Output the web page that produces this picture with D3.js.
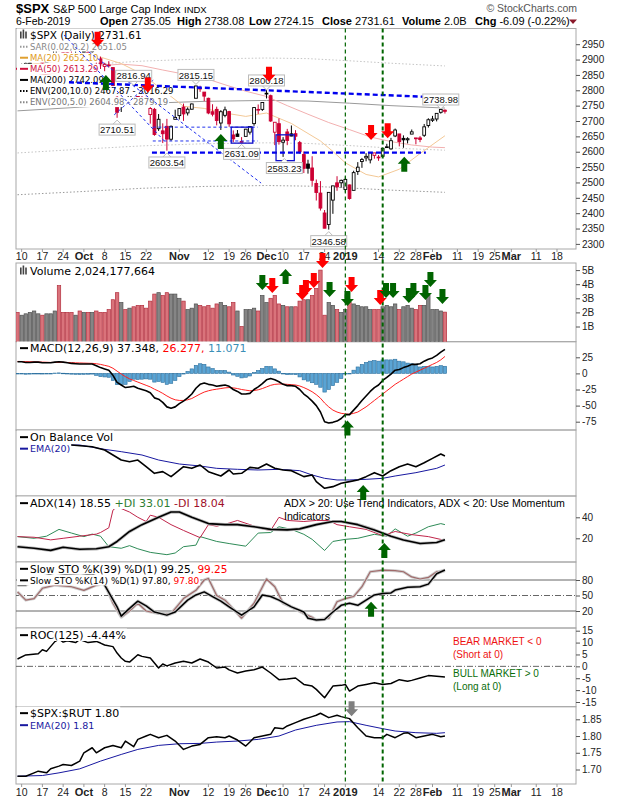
<!DOCTYPE html>
<html>
<head>
<meta charset="utf-8">
<script src="https://cdn.jsdelivr.net/npm/d3@7"></script>
<style>
  body { margin: 0; background: #fff; }
  svg { display: block; }
  text { font-family: "Liberation Sans", Arial, sans-serif; }
  .lg { font-family: "DejaVu Sans", Verdana, sans-serif; }
</style>
</head>
<body>
<svg id="chart" width="620" height="800"></svg>
<script>
// ---- data: one entry per trading day, index 0 = 7-Sep-2018 ... 103 = 6-Feb-2019
const prevClose = 2878.05; // 6-Sep-2018, colours the first bar
const open = [2868.3,2881.4,2871.6,2888.3,2896.9,2906.4,2903.8,2890.7,2906.6,2919.7,
  2936.8,2921.8,2921.8,2916.9,2911.7,2910.0,2926.3,2923.8,2931.7,2919.4,
  2902.5,2877.5,2882.5,2873.9,2776.9,2770.5,2763.8,2767.1,2811.7,2802.0,
  2775.7,2773.9,2721.0,2737.9,2674.9,2667.9,2682.7,2640.7,2705.6,2717.6,
  2745.5,2726.4,2738.4,2774.1,2806.4,2794.1,2773.9,2730.1,2737.9,2693.5,
  2718.5,2730.7,2654.6,2657.7,2633.4,2650.0,2663.8,2691.5,2737.0,2737.8,
  2790.5,2782.4,2663.5,2691.3,2630.9,2664.4,2658.2,2658.7,2629.7,2590.8,
  2559.9,2547.1,2496.8,2465.4,2400.6,2363.1,2442.5,2498.8,2498.9,2477.0,
  2491.9,2474.3,2535.6,2568.1,2580.0,2573.5,2588.1,2580.3,2585.1,2614.8,
  2609.3,2651.3,2657.9,2643.5,2638.8,2657.4,2644.9,2644.9,2653.6,2685.5,
  2702.3,2706.5,2728.3,2735.05];
const high = [2883.8,2886.9,2892.5,2894.6,2906.8,2908.3,2904.6,2911.2,2912.4,2934.8,
  2940.9,2923.8,2923.9,2931.2,2927.2,2920.5,2937.1,2931.4,2939.9,2919.8,
  2909.6,2889.5,2894.8,2874.0,2795.1,2775.8,2776.0,2813.5,2816.9,2806.0,
  2797.8,2778.9,2753.6,2742.6,2722.7,2692.4,2706.9,2685.4,2736.7,2741.7,
  2756.6,2744.3,2756.8,2815.2,2814.8,2794.1,2776.0,2754.6,2746.8,2735.4,
  2746.8,2733.2,2669.4,2670.7,2647.6,2674.4,2682.5,2744.0,2753.8,2760.9,
  2800.2,2785.9,2696.2,2708.5,2647.5,2674.4,2685.4,2670.2,2635.1,2601.1,
  2574.0,2585.3,2509.6,2504.4,2410.3,2467.8,2489.1,2520.3,2509.2,2519.5,
  2493.1,2538.1,2566.2,2579.8,2595.3,2597.8,2596.3,2589.3,2613.1,2625.8,
  2645.1,2675.5,2657.9,2653.2,2647.2,2672.4,2644.9,2650.9,2690.4,2708.95,
  2716.7,2725.0,2738.98,2738.08];
const low = [2864.1,2875.9,2866.8,2879.2,2896.4,2895.8,2886.2,2890.4,2903.8,2919.7,
  2927.1,2912.6,2913.7,2903.3,2909.3,2907.5,2917.9,2919.4,2921.4,2883.9,
  2869.3,2862.1,2874.3,2784.9,2710.5,2729.4,2749.0,2766.9,2781.8,2755.2,
  2760.3,2749.2,2691.4,2651.9,2667.8,2628.2,2603.5,2635.3,2705.6,2705.0,
  2700.4,2717.9,2737.1,2774.1,2794.9,2764.2,2722.0,2715.0,2685.8,2670.8,
  2712.2,2681.1,2631.1,2649.8,2631.5,2650.0,2655.9,2684.4,2722.9,2732.8,
  2773.4,2697.2,2621.5,2623.1,2583.2,2621.3,2650.3,2637.3,2593.8,2530.5,
  2528.7,2489.0,2441.2,2408.6,2351.1,2346.6,2397.9,2472.9,2482.8,2467.5,
  2444.0,2474.3,2524.6,2547.6,2568.9,2562.0,2577.4,2570.4,2585.1,2612.7,
  2606.4,2647.6,2617.3,2612.9,2627.0,2657.3,2624.1,2631.1,2648.3,2678.7,
  2696.9,2698.8,2724.0,2724.15];
const close = [2871.68,2877.13,2887.89,2888.92,2904.18,2904.98,2888.80,2904.31,2907.95,2930.75,
  2929.67,2919.37,2915.56,2905.97,2914.00,2913.98,2924.59,2923.43,2925.51,2901.61,
  2885.57,2884.43,2880.34,2785.68,2728.37,2767.13,2750.79,2809.92,2809.21,2768.78,
  2767.78,2755.88,2740.69,2656.10,2705.57,2658.69,2641.25,2682.63,2711.74,2740.37,
  2723.06,2738.31,2755.45,2813.89,2806.83,2781.01,2726.22,2722.18,2701.58,2730.20,
  2736.27,2690.73,2641.89,2649.93,2632.56,2673.45,2682.17,2743.79,2737.76,2760.17,
  2790.37,2700.06,2695.95,2633.08,2637.72,2636.78,2651.07,2650.54,2599.95,2545.94,
  2546.16,2506.96,2467.42,2416.62,2351.10,2467.70,2488.83,2485.74,2506.85,2510.03,
  2447.89,2531.94,2549.69,2574.41,2584.96,2596.64,2596.26,2582.61,2610.30,2616.10,
  2635.96,2670.71,2632.90,2638.70,2642.33,2664.76,2643.85,2640.00,2681.05,2704.10,
  2706.53,2724.87,2737.70,2731.61];
// volume in billions
const volume = [2.0,1.8,1.9,2.0,2.1,1.9,1.8,1.9,1.9,2.1,
  3.9,2.0,2.0,2.0,1.8,2.1,2.0,2.0,2.0,2.1,
  2.0,2.0,2.2,2.9,3.4,2.7,2.2,2.3,2.4,2.5,
  2.5,2.3,2.8,3.3,3.4,3.2,3.4,3.3,3.3,3.0,
  2.8,2.2,2.3,2.6,2.5,2.4,2.5,2.3,2.6,2.7,
  2.5,2.4,2.7,2.1,1.0,2.2,2.2,2.3,2.1,3.2,
  2.7,3.0,3.2,2.6,2.5,2.4,2.4,2.4,2.8,2.9,
  2.9,3.2,3.7,5.0,1.8,2.7,2.5,2.2,2.0,2.2,
  2.7,2.6,2.5,2.4,2.4,2.2,2.2,2.2,2.4,2.5,
  2.4,2.6,2.2,2.4,2.5,2.3,2.2,2.5,2.5,3.2,
  2.2,2.2,2.1,2.02];
const macd = [18,18,17,17,17.5,17.5,16.5,16.5,16.5,17.5,
  18,17.5,16.5,15.5,15,14.5,14.5,14.5,14.5,12,
  9,7,5,-3,-14,-18,-22,-21,-20,-23,
  -25,-27,-30,-38,-40,-45,-52,-54,-52,-47,
  -43,-38,-32,-23,-17,-15,-17,-18,-20,-19,
  -18,-20,-25,-28,-32,-32,-31,-25,-21,-16,
  -10,-8,-10,-13,-17,-19,-19,-20,-25,-32,
  -37,-43,-50,-60,-75,-77,-76,-74,-70,-64,
  -64,-57,-50,-42,-35,-28,-22,-18,-11,-6,
  -1,5,6,9,11,14,14,15,19,22,
  24,28,33,37.35];
const signal = [18.6,18.5,18.3,18.1,18,17.8,17.5,17.3,17,17,
  17.2,17.2,17,16.7,16.4,16.2,16,15.8,15.6,15,
  14,12.5,11,8,3.5,-1,-5,-8.5,-11,-13.5,
  -16,-18.5,-21,-24.5,-27.5,-31,-35,-38.5,-41,-42,
  -42,-41,-39,-35.5,-32,-29,-27,-25.5,-24.5,-23.5,
  -22.5,-22,-22.5,-23.5,-25,-26,-27,-26.5,-25.5,-23.5,
  -21,-18.5,-17,-16.5,-16.5,-17,-17.5,-18,-19.5,-22,
  -25,-28.5,-33,-38.5,-46,-52,-57,-60,-62,-63,
  -63.5,-62,-60,-56,-52,-47,-42,-37,-32,-27,
  -22,-17,-13,-9,-5,-1,2,5,8,11,
  14,17,21,26.28];

// ---- overlays read at sample days: [day index, value]
const ma20 = [[0,2880],[10,2895],[15,2900],[20,2908],[25,2887],[30,2853],[35,2801],[40,2748],[45,2741],
  [50,2726],[55,2715],[60,2726],[66,2692],[73,2635],[76,2601],[79,2564],[84,2526],[87,2518],[92,2543],[97,2594],[103,2652.1]];
const ma50 = [[0,2838],[10,2858],[20,2880],[25,2885],[30,2880],[35,2866],[40,2853],[45,2840],[50,2818],[55,2797],
  [60,2780],[65,2750],[70,2722],[75,2695],[80,2672],[85,2648],[90,2633],[95,2622],[100,2615],[103,2613.3]];
const ma200 = [[0,2733],[15,2745],[30,2757],[45,2764],[60,2767],[70,2765],[80,2758],[90,2750],[103,2742.1]];
const env10Low = [[0,2460],[15,2470],[30,2481],[45,2487],[60,2490],[70,2488],[80,2482],[90,2475],[103,2467.9]];
const env10High = [[0,3006],[15,3020],[30,3033],[45,3040],[60,3044],[70,3042],[80,3034],[90,3025],[103,3016.3]];
const env5Low = [[0,2596],[15,2608],[30,2619],[45,2626],[60,2629],[70,2627],[80,2620],[90,2612],[103,2605]];
const env5High = [[0,2870],[15,2882],[30,2895],[45,2902],[60,2905],[70,2903],[80,2896],[90,2888],[103,2879.2]];

// ---- indicators read at sample days
const obv = [[0,0.2],[6,0.5],[13,0.5],[18,0],[21,-1],[25,-4],[27,-4.5],[29,-4],[31,-6],[33,-8],[35,-7.5],[37,-9],
  [38,-8],[40,-6],[42,-6.5],[44,-5.5],[46,-7.5],[49,-8.8],[51,-7],[52,-8.2],[54,-8],[56,-6.2],[58,-6.5],[60,-5.2],
  [62,-6.5],[64,-7],[66,-7.2],[69,-9],[71,-8.5],[72,-10.5],[74,-12.5],[76,-12],[78,-11],[80,-10.5],[82,-10],
  [84,-9],[86,-7.8],[88,-8.8],[90,-7.2],[92,-6],[94,-5.2],[96,-6],[98,-4.8],[100,-3.5],[102,-2.2],[103,-2.8]];
const obvEma = [[0,0.5],[15,0.5],[21,-0.8],[25,-1.5],[30,-2.5],[34,-4],[39,-5.2],[44,-5.8],[48,-6.5],[53,-6.8],
  [58,-7],[63,-6.8],[68,-7.2],[71,-8.5],[74,-9.5],[77,-10],[80,-10],[84,-9.8],[88,-9.5],[91,-8.8],[96,-7.8],[101,-6.5],[103,-5.5]];
const adx = [[0,12],[4,10.5],[8,8.5],[11,11.5],[15,9.5],[19,10],[22,12],[24,17],[27,26.5],[30,33],[34,40],[37,45],
  [39,45],[42,40],[46,34],[50,33],[53,33],[57,31],[61,28.5],[65,28],[68,29],[72,33],[76,36],[78,36],[82,33],
  [86,28],[90,22],[93,18.4],[97,15],[101,16],[103,18.55]];
const plusDI = [[0,21.6],[4,20],[7,22],[10,28.5],[13,25],[16,21.6],[18,24],[20,22],[22,12],[25,10.5],[27,13],
  [29,10],[32,6.6],[36,4.4],[38,6],[40,12],[43,13.5],[44,21.6],[48,17],[51,15],[55,12.5],[58,25],[61,25.5],
  [63,31],[66,28.5],[69,23.8],[71,19],[74,8.4],[76,17],[79,19],[82,20],[86,23.8],[89,22],[91,29],[94,22],
  [96,25],[99,31],[102,34],[103,33.01]];
const minusDI = [[0,21.6],[4,21],[8,18.5],[11,20],[15,22],[19,24],[20,25.5],[22,30],[23,46.8],[24,50],[27,45],
  [29,40],[31,36],[32,42],[34,40],[37,33],[40,27.5],[44,20.6],[46,33],[48,31.5],[51,34.5],[53,37],[56,33],
  [59,29],[61,27.5],[63,40],[65,37],[69,36],[72,37],[75,37],[77,33],[80,31],[84,28.5],[88,22.5],[91,26.5],
  [95,23.5],[99,21.6],[103,18.04]];
const stoK39 = [[0,70],[2,70],[5,82],[9,95],[12,90],[15,88],[18,92],[20,80],[21,70],[24,28],[25,10],[27,25],
  [29,39],[31,30],[33,18],[36,12],[38,18],[41,41],[43,51],[45,57],[47,48],[49,39],[51,28],[54,12],[57,28],
  [59,51],[61,48],[63,41],[66,28],[69,18],[70,6],[72,2.5],[74,3.5],[76,18],[78,31],[80,35],[82,31],[84,41],
  [86,51],[88,54],[90,55],[91,60.5],[94,66],[97,67],[99,72],[101,92],[103,99.25]];
const stoK14 = [[0,57],[2,41],[4,44],[6,64],[9,70],[13,67],[16,60],[19,70],[21,73],[23,35],[25,8],[27,20],
  [29,35],[31,20],[34,15],[37,15],[40,44],[43,60],[45,80],[46,83],[48,50],[50,41],[52,24],[54,6],[57,35],
  [60,82],[62,67],[64,35],[66,28],[69,15],[71,8],[72,2.5],[75,6],[77,38],[79,44],[81,48],[83,67],[85,96],
  [88,99],[91,98],[93,96],[95,86],[97,82],[99,85],[101,96],[103,97.8]];
const roc = [[0,3.1],[2,4.8],[5,5.3],[6,7],[7,6.3],[9,10.4],[10,11.5],[11,10.2],[12,10.8],[14,10],[15,11.3],
  [17,10],[19,10.5],[20,9.8],[21,9],[23,8.3],[24,5.6],[25,3.5],[26,2.1],[27,1.8],[29,4.9],[30,4.2],[32,3.5],
  [34,-0.7],[35,1],[36,0.2],[38,1.4],[40,2.1],[42,1.4],[44,3.1],[46,1.8],[48,-0.7],[50,-0.3],[51,-1.5],
  [53,-2.8],[55,-2],[57,-1.4],[59,-0.3],[61,-2.8],[63,-5.6],[65,-5.3],[67,-4.9],[69,-7.6],[71,-8.3],
  [72,-9.7],[74,-13.2],[76,-8.3],[78,-8],[79,-7.6],[80,-10.4],[82,-8.3],[84,-7.6],[86,-6.9],[88,-7.6],
  [90,-7.2],[92,-5.6],[94,-6.3],[95,-5.9],[97,-4.9],[99,-3.9],[101,-4.2],[103,-4.44]];
const ratio = [[0,1.680],[2,1.680],[4,1.690],[5,1.695],[7,1.690],[8,1.702],[10,1.710],[11,1.715],[13,1.712],
  [15,1.725],[16,1.750],[18,1.765],[19,1.750],[21,1.765],[23,1.772],[25,1.765],[26,1.785],[28,1.768],
  [29,1.790],[31,1.800],[32,1.805],[34,1.795],[36,1.802],[38,1.785],[40,1.760],[42,1.770],[44,1.775],
  [46,1.795],[48,1.798],[50,1.795],[51,1.800],[53,1.788],[55,1.770],[56,1.782],[57,1.795],[59,1.800],
  [61,1.805],[62,1.825],[64,1.822],[65,1.830],[67,1.840],[69,1.850],[71,1.858],[72,1.862],[73,1.868],
  [75,1.855],[77,1.862],[78,1.858],[80,1.852],[82,1.825],[84,1.800],[86,1.795],[88,1.795],[89,1.805],
  [91,1.795],[93,1.808],[94,1.810],[96,1.795],[98,1.800],[100,1.805],[102,1.798],[103,1.800]];
const ratioEma = [[0,1.680],[6,1.682],[10,1.690],[15,1.702],[20,1.725],[25,1.745],[29,1.760],[34,1.772],
  [39,1.777],[44,1.778],[48,1.782],[53,1.785],[58,1.790],[63,1.800],[67,1.818],[72,1.832],[77,1.842],
  [80,1.843],[84,1.832],[88,1.822],[91,1.815],[96,1.810],[101,1.808],[103,1.810]];

// ---- axis ticks
const xTicks = [[1,'10'],[6,'17'],[11,'24'],[16,'Oct'],[21,'8'],[26,'15'],[31,'22'],[39,'Nov'],[46,'12'],
  [51,'19'],[55,'26'],[60,'Dec'],[64,'10'],[69,'17'],[74,'24'],[79,'2019'],[87,'14'],[92,'22'],[96,'28'],
  [100,'Feb'],[106,'11'],[111,'19'],[115,'25'],[119,'Mar'],[125,'11'],[130,'18']];
const priceTicks = d3.range(2300, 2951, 50);
const volTicks = [1, 2, 3, 4, 5];
const macdTicks = [-75, -50, -25, 0, 25];
const adxTicks = [20, 40];
const stoTicks = [20, 50, 80];
const rocTicks = [-15, -10, -5, 0, 5, 10, 15];
const ratioTicks = [1.70, 1.75, 1.80, 1.85];

// ---- annotations: [day index, value at arrow tip, direction, colour]
const priceArrows = [[19.3,2942,'down','r'],[31.4,2793,'down','r'],[60.6,2828,'down','r'],[85.2,2638,'down','r'],
  [89.2,2644,'down','r'],[21.3,2850,'up','g'],[49,2658,'up','g'],[93.2,2584,'up','g']];
const volArrows = [[59,3.59,'down','g'],[61.4,3.38,'down','r'],[64.6,5.08,'up','g'],[68.6,2.88,'down','r'],
  [69.5,3.23,'down','r'],[71.4,3.73,'down','r'],[73.5,5.15,'down','r'],[75.2,3.09,'down','g'],
  [79.5,2.45,'down','g'],[80.5,3.45,'down','r'],[87.4,2.52,'down','r'],[88.8,3.02,'down','g'],
  [90.5,3.02,'down','g'],[94.3,2.67,'down','g'],[95.4,3.02,'down','g'],[98.3,2.88,'down','g'],
  [99.5,3.8,'down','g'],[102.4,2.6,'down','g']];
const callouts = [['2816.94',28,2847,'H'],['2815.15',43,2850,'H'],['2800.18',60,2832,'H'],['2710.51',24,2672,'L'],
  ['2603.54',36,2565,'L'],['2631.09',54,2593,'L'],['2583.23',64.3,2547,'L'],['2346.58',75,2309,'L'],['2738.98',102,2770,'H']];
// trend lines: [[index, price], [index, price]]
const trendThick = [[[12.4,2826],[98,2779]], [[32.4,2597],[98.4,2597]]];
const trendThin = [[[17.2,2925],[58.7,2498]], [[11.2,2980],[35.8,2629]], [[23.3,2720],[32.7,2833]],
  [[32.6,2680],[57.9,2680]], [[32.6,2635],[57.9,2635]]];
const boxes = [[51.5,56.7,2680,2628],[62.3,66.7,2655,2571]];
const markerDays = [79, 88];

// ---- layout
const svg = d3.select('#chart');
const defs = svg.append('defs');
const X0 = 16, X1 = 576;
const x = d3.scaleLinear().domain([-0.36, 134.58]).range([X0, X1]);
const panels = {
  price: [28.5, 249], vol: [263, 341.7], macd: [341.7, 430], obv: [430, 496],
  adx: [496, 562], sto: [562, 628], roc: [628, 706.7], ratio: [706.7, 784]
};
const yPrice = d3.scaleLinear().domain([2300, 2950]).range([243.9, 44.2]);
const yVol = d3.scaleLinear().domain([0, 5]).range([340.6, 270.1]);
const yMacd = d3.scaleLinear().domain([-75, 25]).range([421.7, 357.3]);
const yObv = d3.scaleLinear().domain([-14, 3]).range([493.3, 436.7]);
const yAdx = d3.scaleLinear().domain([20, 40]).range([538.3, 517.3]);
const ySto = d3.scaleLinear().domain([20, 80]).range([611, 580]);
const yRoc = d3.scaleLinear().domain([-15, 15]).range([702, 630.7]);
const yRatio = d3.scaleLinear().domain([1.70, 1.85]).range([769.5, 719.3]);

const RED = '#ff0000', GREEN = '#006400';
const arrowCol = c => c === 'r' ? RED : c === 'g' ? GREEN : '#808080';

// panel frames
Object.entries(panels).forEach(([k, p]) => {
  svg.append('rect').attr('x', X0).attr('y', p[0]).attr('width', X1 - X0).attr('height', p[1] - p[0])
    .attr('fill', 'none').attr('stroke', '#a8a8a8');
  defs.append('clipPath').attr('id', 'clip-' + k).append('rect')
    .attr('x', X0).attr('y', p[0]).attr('width', X1 - X0).attr('height', p[1] - p[0]);
});
const layer = k => svg.append('g').attr('clip-path', `url(#clip-${k})`);

function line(g, pts, y, color, width, dash) {
  return g.append('path').datum(pts)
    .attr('fill', 'none').attr('stroke', color).attr('stroke-width', width)
    .attr('stroke-dasharray', dash || null).attr('stroke-linejoin', 'round')
    .attr('d', d3.line().x(d => x(d[0])).y(d => y(d[1])));
}
const daily = arr => arr.map((v, i) => [i, v]);

function rightAxis(scale, ticks, fmt) {
  const g = svg.append('g').attr('transform', `translate(${X1},0)`)
    .call(d3.axisRight(scale).tickValues(ticks).tickSize(4).tickPadding(2).tickFormat(fmt));
  g.select('.domain').remove();
  g.selectAll('line').attr('stroke', '#555');
  g.selectAll('text').attr('font-size', 10).attr('fill', '#222')
    .attr('font-family', '"Liberation Sans", Arial, sans-serif');
}

function arrow(g, i, tipY, dir, color) {
  const cx = x(i), s = dir === 'down' ? -1 : 1;
  const p = [[cx, tipY], [cx + 6.5, tipY + s * 7], [cx + 3, tipY + s * 7], [cx + 3, tipY + s * 15],
    [cx - 3, tipY + s * 15], [cx - 3, tipY + s * 7], [cx - 6.5, tipY + s * 7]];
  g.append('path').attr('d', 'M' + p.join('L') + 'Z').attr('fill', color);
}

// ---- date rows
function dateRow(yBase, tickTop) {
  xTicks.forEach(([i, lab]) => {
    const bold = isNaN(+lab) || lab === '2019';
    svg.append('text').attr('x', x(i)).attr('y', yBase).attr('text-anchor', 'middle')
      .attr('font-size', bold ? 11 : 10.5).attr('font-weight', bold ? 'bold' : null).attr('fill', '#222').text(lab);
    svg.append('line').attr('x1', x(i)).attr('x2', x(i)).attr('y1', tickTop).attr('y2', tickTop + 3)
      .attr('stroke', '#999');
  });
}
dateRow(260, 249);
dateRow(796, 784);

// ---- price panel data
const gP = layer('price');
line(gP, env10High, yPrice, '#999', 1, '1.5,2');
line(gP, env10Low, yPrice, '#999', 1, '1.5,2');
line(gP, env5High, yPrice, '#c4c4c4', 1, '1.5,2');
line(gP, env5Low, yPrice, '#c4c4c4', 1, '1.5,2');
line(gP, ma200, yPrice, '#9a9a9a', 1);
line(gP, ma50, yPrice, '#f2b0b0', 1);
line(gP, ma20, yPrice, '#f3c896', 1);

close.forEach((c, i) => {
  const prev = i === 0 ? prevClose : close[i - 1];
  const col = c < prev ? '#cc0033' : '#000';
  const xi = x(i);
  gP.append('line').attr('x1', xi).attr('x2', xi).attr('y1', yPrice(high[i])).attr('y2', yPrice(low[i]))
    .attr('stroke', col).attr('stroke-width', 1);
  const t = yPrice(Math.max(open[i], c)), b = yPrice(Math.min(open[i], c));
  gP.append('rect').attr('x', xi - 1.4).attr('y', t).attr('width', 2.8).attr('height', Math.max(b - t, 0.8))
    .attr('fill', c < open[i] ? col : '#fff').attr('stroke', col).attr('stroke-width', 0.9);
});
rightAxis(yPrice, priceTicks, d => d);

// ---- volume panel
const gV = layer('vol');
volume.forEach((v, i) => {
  const prev = i === 0 ? prevClose : close[i - 1];
  const down = close[i] < prev;
  gV.append('rect').attr('x', x(i) - 1.7).attr('y', yVol(v)).attr('width', 3.4).attr('height', yVol(0) - yVol(v) + 2)
    .attr('fill', down ? '#d9737b' : '#858585').attr('stroke', down ? '#b3303f' : '#505050').attr('stroke-width', 0.7);
});
rightAxis(yVol, volTicks, d => d + 'B');

// ---- MACD panel
const gM = layer('macd');
macd.forEach((m, i) => {
  const h = m - signal[i];
  gM.append('rect').attr('x', x(i) - 1.7).attr('y', yMacd(Math.max(h, 0))).attr('width', 3.4)
    .attr('height', Math.max(Math.abs(yMacd(h) - yMacd(0)), 0.6))
    .attr('fill', '#5aa4d4').attr('stroke', '#2b6f9e').attr('stroke-width', 0.6);
});
line(gM, daily(signal), yMacd, '#ff2020', 1);
line(gM, daily(macd), yMacd, '#000', 1.6);
rightAxis(yMacd, macdTicks, d => d);

// ---- OBV panel
const gO = layer('obv');
line(gO, obvEma, yObv, '#1818a0', 1);
line(gO, obv, yObv, '#000', 1.6);

// ---- ADX panel
const gA = layer('adx');
line(gA, plusDI, yAdx, '#2e8b57', 1);
line(gA, minusDI, yAdx, '#c0254a', 1);
line(gA, adx, yAdx, '#bdbdbd', 3.2);
line(gA, adx, yAdx, '#000', 1.6);
rightAxis(yAdx, adxTicks, d => d);

// ---- Stochastics panel
const gS = layer('sto');
[80, 20].forEach(v => gS.append('line').attr('x1', X0).attr('x2', X1).attr('y1', ySto(v)).attr('y2', ySto(v))
  .attr('stroke', '#666').attr('stroke-width', 1));
gS.append('line').attr('x1', X0).attr('x2', X1).attr('y1', ySto(50)).attr('y2', ySto(50))
  .attr('stroke', '#666').attr('stroke-dasharray', '6,2,1,2');
line(gS, stoK14, ySto, '#cfcfcf', 3);
line(gS, stoK14, ySto, '#a06a6a', 1.2);
line(gS, stoK39, ySto, '#c8c8c8', 3.2);
line(gS, stoK39, ySto, '#000', 1.5);
rightAxis(ySto, stoTicks, d => d);

// ---- ROC panel
const gR = layer('roc');
gR.append('line').attr('x1', X0).attr('x2', X1).attr('y1', yRoc(0)).attr('y2', yRoc(0))
  .attr('stroke', '#666').attr('stroke-dasharray', '6,2,1,2');
line(gR, roc, yRoc, '#000', 1.5);
rightAxis(yRoc, rocTicks, d => d);

// ---- $SPX:$RUT panel
const gX = layer('ratio');
line(gX, ratioEma, yRatio, '#1818a0', 1);
line(gX, ratio, yRatio, '#000', 1.5);
rightAxis(yRatio, ratioTicks, d3.format('.2f'));

// ---- legends (white box behind each row, as the original hides the lines there)
function legend(y, parts, size, icon, iconCol) {
  const bg = svg.append('rect').attr('fill', '#fff');
  const t = svg.append('text').attr('class', 'lg').attr('x', 30).attr('y', y).attr('font-size', size);
  parts.forEach(([s, c]) => t.append('tspan').attr('fill', c).text(s));
  const w = t.node().getComputedTextLength();
  bg.attr('x', X0 + 1).attr('y', y - size * 0.95).attr('width', 30 + w + 1 - X0 - 1).attr('height', size * 0.95 + 2);
  if (icon === 'line' || icon === 'dots') svg.append('line').attr('x1', 20).attr('x2', 28)
    .attr('y1', y - size * 0.35).attr('y2', y - size * 0.35).attr('stroke', iconCol).attr('stroke-width', 2)
    .attr('stroke-dasharray', icon === 'dots' ? '1.5,1.5' : null);
  if (icon === 'bars') [0, 1, 2].forEach(k => svg.append('rect').attr('x', 20 + k * 2.6).attr('y', y - 8 + (k === 1 ? -1 : 1))
    .attr('width', 1.6).attr('height', 8 - (k === 1 ? -1 : 1)).attr('fill', '#444'));
}
const pl = 11.1;
legend(38.5, [['$SPX (Daily) 2731.61', '#000']], 10.5, 'bars');
legend(38.5 + pl, [['SAR(0.02,0.2) 2651.05', '#888']], 8.5, 'dots', '#999');
legend(38.5 + pl * 2, [['MA(20) 2652.10', '#e09a20']], 8.5, 'line', '#e0a030');
legend(38.5 + pl * 3, [['MA(50) 2613.29', '#d0103f']], 8.5, 'line', '#d0103f');
legend(38.5 + pl * 4, [['MA(200) 2742.09', '#000']], 8.5, 'line', '#000');
legend(38.5 + pl * 5, [['ENV(200,10.0) 2467.87 - 3016.29', '#000']], 8.5, 'dots', '#000');
legend(38.5 + pl * 6, [['ENV(200,5.0) 2604.98 - 2879.19', '#777']], 8.5, 'dots', '#888');

legend(274.5, [['Volume 2,024,177,664', '#000']], 11, 'bars');
legend(352, [['MACD(12,26,9) 37.348, ', '#000'], ['26.277, ', '#ff0000'], ['11.071', '#3a8fb7']], 11, 'line', '#000');
legend(441, [['On Balance Vol', '#000']], 11, 'line', '#000');
legend(452, [['EMA(20)', '#1818a0']], 9.5, 'line', '#1818a0');
legend(507, [['ADX(14) 18.55 ', '#000'], ['+DI 33.01 ', '#2e7d32'], ['-DI 18.04', '#a0102a']], 11, 'line', '#000');
legend(572.5, [['Slow STO %K(39) %D(1) 99.25, ', '#000'], ['99.25', '#ff0000']], 10.5, 'line', '#000');
legend(583.5, [['Slow STO %K(14) %D(1) 97.80, ', '#000'], ['97.80', '#ff0000']], 9, 'line', '#000');
legend(639, [['ROC(125) -4.44%', '#000']], 11, 'line', '#000');
legend(717, [['$SPX:$RUT 1.80', '#000']], 11, 'line', '#000');
legend(728.5, [['EMA(20) 1.81', '#1818a0']], 9.5, 'line', '#1818a0');

// panel notes
const note = (xp, yp, s, c, size) => svg.append('text').attr('x', xp).attr('y', yp).attr('font-size', size)
  .attr('fill', c).text(s);
note(284, 507, 'ADX > 20: Use Trend Indicators, ADX < 20: Use Momentum', '#000', 10.6);
note(284, 520, 'Indicators', '#000', 10.6);
note(453, 644.5, 'BEAR MARKET < 0', '#ee1111', 10);
note(453, 658, '(Short at 0)', '#ee1111', 10);
note(453, 676.5, 'BULL MARKET > 0', '#0a6e0a', 10);
note(453, 690, '(Long at 0)', '#0a6e0a', 10);

// ---- price annotations drawn over the legend
const gN = layer('price');
trendThick.forEach(seg => line(gN, seg, yPrice, '#0000ee', 2.4, '5,3'));
trendThin.forEach(seg => line(gN, seg, yPrice, '#2233ee', 1, '3,2.5'));
boxes.forEach(([i0, i1, p0, p1]) => {
  gN.append('rect').attr('x', x(i0)).attr('y', yPrice(p0)).attr('width', x(i1) - x(i0))
    .attr('height', yPrice(p1) - yPrice(p0)).attr('fill', 'none').attr('stroke', '#1010cc').attr('stroke-width', 1.3);
});
callouts.forEach(([t, i, p, kind]) => {
  const cx = x(i), cy = yPrice(p), w = 36, h = 11;
  const g = svg.append('g');
  const ty = kind === 'H' ? cy + h / 2 : cy - h / 2, s = kind === 'H' ? 1 : -1;
  g.append('path').attr('d', `M${cx - 4},${ty}L${cx},${ty + s * 4}L${cx + 4},${ty}`)
    .attr('fill', '#fff').attr('stroke', '#bbb');
  g.append('rect').attr('x', cx - w / 2).attr('y', cy - h / 2).attr('width', w).attr('height', h)
    .attr('fill', '#fff').attr('stroke', '#bbb');
  g.append('text').attr('x', cx).attr('y', cy + 3.6).attr('text-anchor', 'middle')
    .attr('font-size', 9.5).attr('fill', '#111').text(t);
});

// ---- vertical markers
markerDays.forEach((d, k) => {
  svg.append('line').attr('x1', x(d)).attr('x2', x(d)).attr('y1', panels.price[0]).attr('y2', panels.ratio[1])
    .attr('stroke', GREEN).attr('stroke-width', k ? 2 : 1.2).attr('stroke-dasharray', '4,3');
});

// ---- arrows
const gArr = svg.append('g');
priceArrows.forEach(([i, v, d, c]) => arrow(gArr, i, yPrice(v), d, arrowCol(c)));
volArrows.forEach(([i, v, d, c]) => arrow(gArr, i, yVol(v), d, arrowCol(c)));
arrow(gArr, 79.5, yMacd(-73), 'up', GREEN);
arrow(gArr, 83.3, yObv(-11.5), 'up', GREEN);
arrow(gArr, 88.4, yAdx(15.5), 'up', GREEN);
arrow(gArr, 85.2, ySto(38), 'up', GREEN);
arrow(gArr, 80.5, yRatio(1.859), 'down', '#808080');

// ---- header
const head = svg.append('g');
head.append('text').attr('x', 16).attr('y', 13).attr('font-size', 13).attr('font-weight', 'bold').text('$SPX');
head.append('text').attr('x', 53).attr('y', 13).attr('font-size', 11).text('S&P 500 Large Cap Index');
head.append('text').attr('x', 184).attr('y', 13).attr('font-size', 9.5).text('INDX');
head.append('text').attr('x', 16).attr('y', 25).attr('font-size', 10.5).text('6-Feb-2019');
const stat = (xp, lab, val) => {
  const t = head.append('text').attr('x', xp).attr('y', 25).attr('font-size', 11);
  t.append('tspan').attr('font-weight', 'bold').text(lab);
  t.append('tspan').text(' ' + val);
};
stat(100, 'Open', '2735.05');
stat(177, 'High', '2738.08');
stat(249, 'Low', '2724.15');
stat(322, 'Close', '2731.61');
stat(402, 'Volume', '2.0B');
stat(475, 'Chg', '-6.09 (-0.22%)');
head.append('path').attr('d', 'M569,19.5L577,19.5L573,24Z').attr('fill', '#8b1a2b');
head.append('text').attr('x', 577).attr('y', 12).attr('text-anchor', 'end').attr('font-size', 10.5)
  .attr('fill', '#555').text('© StockCharts.com');
</script>
</body>
</html>
